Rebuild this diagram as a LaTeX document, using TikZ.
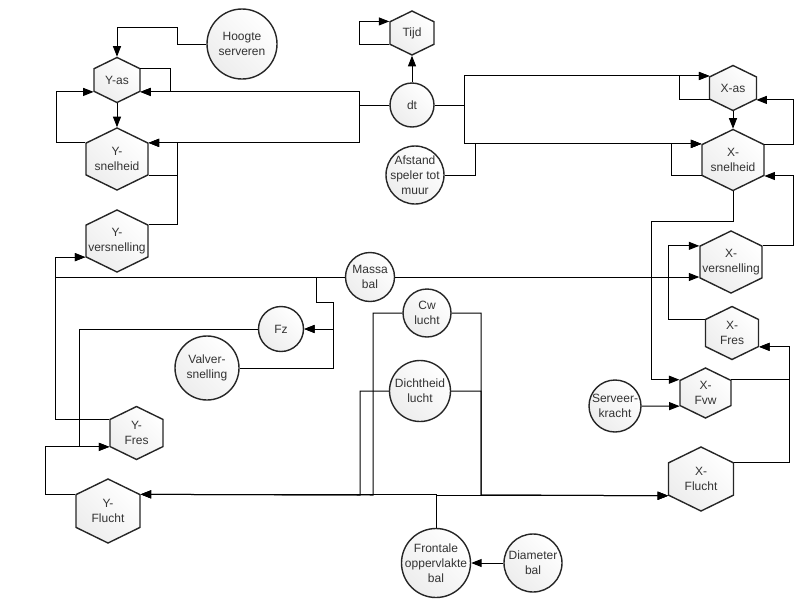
\documentclass[tikz,border=0pt]{standalone}
\usepackage{fontspec}
\setmainfont{Liberation Sans}
\usepackage{tikz}
\usetikzlibrary{arrows.meta, shapes.symbols}

\begin{document}
\begin{tikzpicture}[x=1pt, y=-1pt, >={Triangle[length=10.5pt, width=8pt]},
    box/.style={draw=black!85, line width=1.4pt, top color=white, bottom color=black!7, shading angle=-45},
    hexa/.style 2 args={box, signal, signal to=north and south, signal pointer angle=128,
        minimum width=#1, minimum height=#2, inner sep=0pt},
    ball/.style={box, circle, minimum size=#1, inner sep=0pt},
    txt/.style={align=center, text=black!80, font=\fontsize{12}{15}\selectfont, inner sep=0pt},
    wire/.style={->, line width=1pt}]
    \useasboundingbox (0,0) rectangle (800,600);

    % voorraden (breedte, hoogte zonder punten)
    \node[hexa={44}{22.5}, label={[txt]center:Tijd}] (tijd) at (412,33) {};
    \node[hexa={46}{22.6}, label={[txt]center:Y-as}] (yas) at (117,80) {};
    \node[hexa={47}{22.1}, label={[txt]center:X-as}] (xas) at (733,88) {};
    \node[hexa={62}{31.8}, label={[txt]center:Y-\\snelheid}] (ysnel) at (117,159) {};
    \node[hexa={62}{30.8}, label={[txt]center:X-\\snelheid}] (xsnel) at (733,160) {};
    \node[hexa={62}{31.8}, label={[txt]center:Y-\\versnelling}] (yvers) at (117,241) {};
    \node[hexa={62}{31.8}, label={[txt]center:X-\\versnelling}] (xvers) at (731,262) {};
    \node[hexa={53}{27.1}, label={[txt]center:X-\\Fres}] (xfres) at (732,333) {};
    \node[hexa={51}{25.1}, label={[txt]center:X-\\Fvw}] (xfvw) at (705.5,393) {};
    \node[hexa={53}{27.1}, label={[txt]center:Y-\\Fres}] (yfres) at (136.5,433) {};
    \node[hexa={65}{32.3}, label={[txt]center:X-\\Flucht}] (xflucht) at (701,479) {};
    \node[hexa={64}{32.8}, label={[txt]center:Y-\\Flucht}] (yflucht) at (108,511) {};

    % constanten
    \node[ball=70, label={[txt]center:Hoogte\\serveren}] (hoogte) at (242,44) {};
    \node[ball=44, label={[txt]center:dt}] (dt) at (412,105) {};
    \node[ball=58, label={[txt]center:Afstand\\speler tot\\muur}] (afstand) at (415,175) {};
    \node[ball=49, label={[txt]center:Massa\\bal}] (massa) at (370,277) {};
    \node[ball=45, label={[txt]center:Fz}] (fz) at (281,329) {};
    \node[ball=64, label={[txt]center:Valver-\\snelling}] (valvers) at (207,368) {};
    \node[ball=48, label={[txt]center:Cw\\lucht}] (cw) at (427,313) {};
    \node[ball=61, label={[txt]center:Dichtheid\\lucht}] (dichtheid) at (420,391) {};
    \node[ball=52, label={[txt]center:Serveer-\\kracht}] (serveer) at (615,406) {};
    \node[ball=69, label={[txt]center:Frontale\\oppervlakte\\bal}] (frontaal) at (436,563) {};
    \node[ball=58, label={[txt]center:Diameter\\bal}] (diameter) at (533,563) {};

    % Y-richting
    \draw[wire] (hoogte.west) -| (177,27) -| (yas.north);
    \draw[wire] (yas.27) -- ++(30,0) |- (yas.333);
    \draw[wire] (dt.west) -- ++(-30,0) |- (yas.333);
    \draw[wire] (dt.west) -- ++(-30,0) |- (ysnel.27);
    \draw[wire] (yas) -- (ysnel);
    \draw[wire] (ysnel.153) -- ++(-29,0) |- (yas.207);
    \draw[wire] (ysnel.333) -- ++(29,0) |- (ysnel.27);
    \draw[wire] (yvers.27) -- ++(29,0) |- (ysnel.27);
    \draw[wire] (yfres.153) -| ([xshift=-30pt]yvers.207) -- (yvers.207);
    \draw[wire] (massa.west) -| ([xshift=-30pt]yvers.207) -- (yvers.207);
    \draw[wire] (massa.west) -| (316,302) -| (333,329) -- (fz);
    \draw[wire] (valvers.east) -| (333,329) -- (fz);
    \draw[wire] (fz.west) -| ([xshift=-30pt]yfres.207) -- (yfres.207);
    \draw[wire] (yflucht.153) -- ++(-30,0) |- (yfres.207);
    \draw[wire] (dichtheid.west) -| (360,495) -- (yflucht.27);
    \draw[wire] (cw.west) -| (373,495) -- (yflucht.27);
    \draw[wire] (frontaal) |- (yflucht.27);

    % X-richting
    \draw[wire] (dt) -- (tijd);
    \draw[wire] (tijd.207) -- ++(-30,0) |- (tijd.153);
    \draw[wire] (dt.east) -- ++(30,0) |- (xas.153);
    \draw[wire] (dt.east) -- ++(30,0) |- (xsnel.153);
    \draw[wire] (afstand.east) -- ++(31,0) |- (xsnel.153);
    \draw[wire] (xas.207) -- ++(-30,0) |- (xas.153);
    \draw[wire] (xas) -- (xsnel);
    \draw[wire] (xsnel.207) -- ++(-30,0) |- (xsnel.153);
    \draw[wire] (xsnel.27) -- ++(29,0) |- (xas.333);
    \draw[wire] (xvers.27) -- ++(31,0) |- (xsnel.333);
    \draw[wire] (massa) -- (massa -| xvers.west);
    \draw[wire] (xsnel.south) |- (651,221) |- (xfvw.153);
    \draw[wire] (xfres.153) -- ++(-36,0) |- (xvers.153);
    \draw[wire] (serveer.east) -- (xfvw.207);
    \draw[wire] (xfvw.27) -| ([xshift=30pt]xfres.333) -- (xfres.333);
    \draw[wire] (xflucht.27) -| ([xshift=30pt]xfres.333) -- (xfres.333);
    \draw[wire] (cw.east) -| (481,495) -- (xflucht.207);
    \draw[wire] (dichtheid.east) -| (481,495) -- (xflucht.207);
    \draw[wire] (frontaal) |- (xflucht.207);
    \draw[wire] (diameter) -- (frontaal);
\end{tikzpicture}
\end{document}
